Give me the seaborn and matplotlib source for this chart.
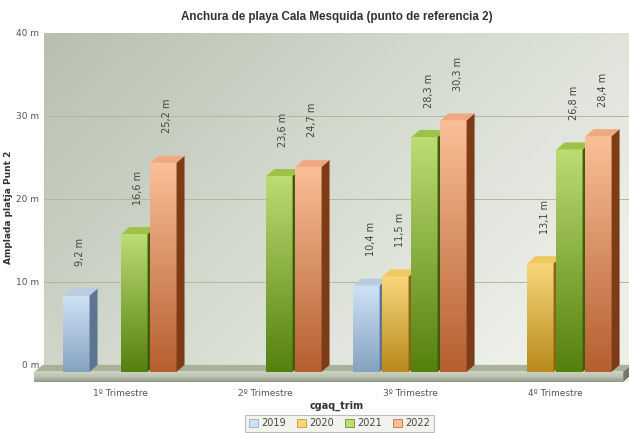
import matplotlib
matplotlib.use("Agg")
import matplotlib.pyplot as plt
import matplotlib.patches as patches
from matplotlib.colors import LinearSegmentedColormap
import numpy as np
import pandas as pd
import seaborn as sns

quarters = ["1º Trimestre", "2º Trimestre", "3º Trimestre", "4º Trimestre"]
years = ["2019", "2020", "2021", "2022"]
w2019 = [9.2, None, 10.4, None]
w2020 = [None, None, 11.5, 13.1]
w2021 = [16.6, 23.6, 28.3, 26.8]
w2022 = [25.2, 24.7, 30.3, 28.4]
y_ticks = [0, 10, 20, 30, 40]

# (top of front face, bottom of front face, side, top face)
palette = {
    "2019": ("#cfe2f5", "#86a2c2", "#5d7590", "#b8cde3"),
    "2020": ("#f7d77a", "#b88a1c", "#8c6510", "#f0c860"),
    "2021": ("#bcdc74", "#55800e", "#3d5d08", "#9cc248"),
    "2022": ("#fbbf98", "#b55f30", "#7e3c16", "#f0a880"),
}

df = pd.DataFrame({"trim": quarters, "2019": w2019, "2020": w2020,
                   "2021": w2021, "2022": w2022})
df = df.melt(id_vars="trim", var_name="year", value_name="width").dropna()

fig = plt.figure(figsize=(6.29, 4.33), dpi=100)
ax = fig.add_axes([44 / 629, 0.118, 585 / 629, 0.806])

sns.barplot(data=df, x="trim", y="width", hue="year", order=quarters,
            hue_order=years, width=0.8, gap=0.1, ax=ax, legend=False,
            saturation=1, errorbar=None)

ddx, ddy = 0.055, 0.84   # fake 3d depth
xlim = (-0.524, 3.51)
ylim = (-2.05, 40)

# background gradient
gx, gy = np.meshgrid(np.linspace(0, 1, 200), np.linspace(0, 1, 200))
t = np.clip(0.75 * gx + 0.45 * (1 - gy), 0, 1)
bg = LinearSegmentedColormap.from_list("bg", ["#b7c0b0", "#d3d9cd", "#eceee8"])
ax.imshow(t, cmap=bg, extent=[0, 1, 0, 1], transform=ax.transAxes,
          aspect="auto", zorder=0, origin="lower")

for v in y_ticks[1:-1]:
    ax.axhline(v, color="#b3b896", lw=0.7, zorder=1)

# floor slab (sticks out a little to the left, like the original)
x0, x1 = -0.59, 3.47
ax.add_patch(patches.Polygon([(x0, -ddy), (x1, -ddy), (x1 + ddx, 0), (x0 + ddx, 0)],
                             closed=True, fc="#a9b298", ec="none", zorder=2,
                             clip_on=False))
floor_cm = LinearSegmentedColormap.from_list("fl", ["#8f9887", "#bcc3b2", "#cfd5c6"])
fim = ax.imshow(np.linspace(0, 1, 50).reshape(-1, 1), cmap=floor_cm, aspect="auto",
                extent=[x0, x1, ylim[0], -ddy], zorder=2, origin="lower")
fim.set_clip_on(False)
ax.add_patch(patches.Polygon([(x1, ylim[0]), (x1 + ddx, ylim[0] + ddy),
                              (x1 + ddx, 0), (x1, -ddy)],
                             closed=True, fc="#6f7a68", ec="none", zorder=2,
                             clip_on=False))

# 3d-look bars
bars = []
for year, cont in zip(years, ax.containers):
    for bar in cont:
        bars.append((bar.get_x(), year, bar))
bars.sort(key=lambda b: b[0])

for i, (_, year, bar) in enumerate(bars):
    top_c, bot_c, side_c, cap_c = palette[year]
    h = bar.get_height()
    bar.set_y(-ddy)
    x, w, y = bar.get_x(), bar.get_width(), bar.get_y()
    z = 3 + i * 0.01
    bar.set_facecolor("none")
    bar.set_edgecolor("none")
    cm = LinearSegmentedColormap.from_list("b" + year, [bot_c, top_c])
    im = ax.imshow(np.linspace(0, 1, 100).reshape(-1, 1), cmap=cm, aspect="auto",
                   extent=[x, x + w, y, y + h], origin="lower", zorder=z)
    im.set_clip_path(bar)
    ax.add_patch(patches.Polygon([(x + w, y), (x + w + ddx, y + ddy),
                                  (x + w + ddx, y + h + ddy), (x + w, y + h)],
                                 closed=True, fc=side_c, ec="none", zorder=z))
    ax.add_patch(patches.Polygon([(x, y + h), (x + w, y + h),
                                  (x + w + ddx, y + h + ddy), (x + ddx, y + h + ddy)],
                                 closed=True, fc=cap_c, ec="none", zorder=z))
    label = f"{h:.1f}".replace(".", ",") + " m"
    ax.text(x + (w + ddx) / 2, h + 2.7, label, rotation=90, ha="center",
            va="bottom", fontsize=7, color="#444444", zorder=10)

ax.set_xlim(*xlim)
ax.set_ylim(*ylim)
ax.set_yticks(y_ticks)
ax.set_yticklabels([f"{v} m" for v in y_ticks])
for s in ax.spines.values():
    s.set_visible(False)
ax.tick_params(axis="both", length=0, labelsize=6.5, colors="#555555")
ax.tick_params(axis="x", pad=5)
ax.set_xlabel("cgaq_trim", fontsize=7, fontweight="bold", color="#333333", labelpad=2)
ax.set_ylabel("Amplada platja Punt 2", fontsize=6.5, fontweight="bold",
              color="#333333")
ax.yaxis.set_label_coords(-0.053, 0.5)
ax.set_title("Anchura de playa Cala Mesquida (punto de referencia 2)",
             fontsize=8.4, fontweight="bold", color="#333333", pad=9,
             family=["Liberation Sans", "DejaVu Sans"])

handles = [patches.Patch(fc=palette[yr][0], ec=palette[yr][1], lw=0.5) for yr in years]
leg = fig.legend(handles, years, loc="lower center", ncol=4, fontsize=7,
                 bbox_to_anchor=(0.54, -0.008), frameon=True, handlelength=0.9,
                 handleheight=0.9, handletextpad=0.4, columnspacing=1.1,
                 borderpad=0.35, fancybox=False)
leg.get_frame().set_facecolor("#f0f0ea")
leg.get_frame().set_edgecolor("#b0b0a8")
leg.get_frame().set_linewidth(0.8)
for txt in leg.get_texts():
    txt.set_color("#444444")

fig.savefig("out.png", dpi=100)
